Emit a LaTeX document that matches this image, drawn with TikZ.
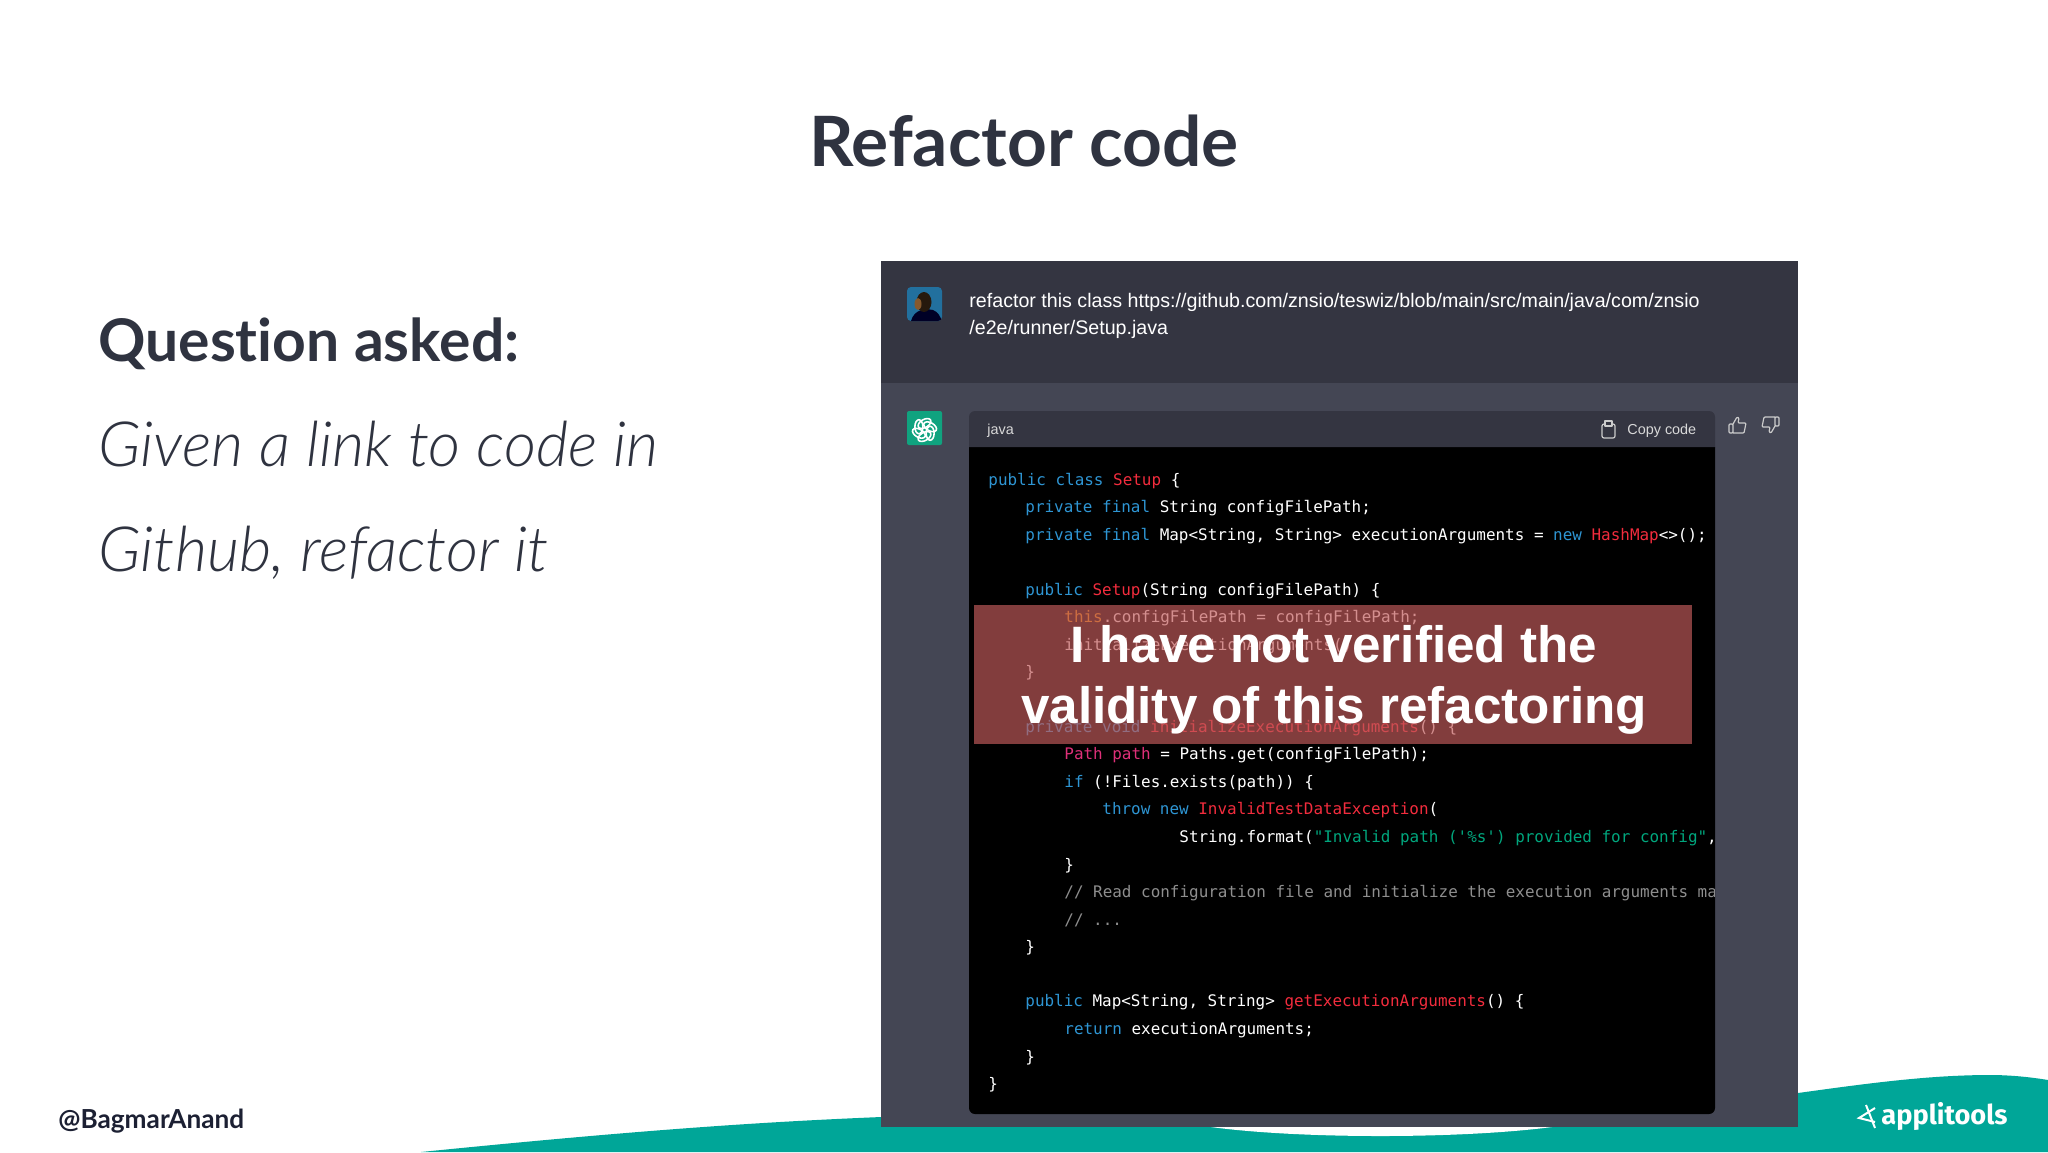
\documentclass[tikz,border=0pt]{standalone}
\usepackage{fontspec}
\usepackage{xcolor}
\setmainfont[Ligatures=NoCommon]{Lato}
\setsansfont{Liberation Sans}
\setmonofont{DejaVu Sans Mono}
\newfontfamily\lightfont[Ligatures=NoCommon]{Lato Light}
\newfontfamily\logofont{Fira Sans}
\definecolor{slidetext}{HTML}{2F3340}
\definecolor{handletext}{HTML}{1C2033}
\definecolor{wave}{HTML}{00A698}
\definecolor{userrow}{HTML}{343541}
\definecolor{botrow}{HTML}{444654}
\definecolor{gptgreen}{HTML}{10A37F}
\definecolor{kwblue}{HTML}{2E95D3}
\definecolor{titlered}{HTML}{F22C3D}
\definecolor{typepink}{HTML}{DF3079}
\definecolor{strgreen}{HTML}{00A67D}
\definecolor{cmtgray}{HTML}{8E8E8E}
\definecolor{thisorange}{HTML}{E9950C}
\definecolor{warnred}{HTML}{C15B5B}
\newcommand{\kw}[1]{\textcolor{kwblue}{#1}}
\newcommand{\ttl}[1]{\textcolor{titlered}{#1}}
\newcommand{\typ}[1]{\textcolor{typepink}{#1}}
\newcommand{\str}[1]{\textcolor{strgreen}{#1}}
\newcommand{\cmt}[1]{\textcolor{cmtgray}{#1}}
\newcommand{\bltn}[1]{\textcolor{thisorange}{#1}}
\begin{document}
\begin{tikzpicture}[x=0.5pt,y=-0.5pt,
                slidehead/.style={font=\fontsize{34.7}{40}\selectfont\bfseries,text=slidetext,inner sep=0pt},
                slidebody/.style={font=\lightfont\fontsize{31.2}{38}\selectfont\itshape,text=slidetext,anchor=west,inner sep=0pt},
                chattext/.style={font=\sffamily\fontsize{9.82}{12}\selectfont,text=white,anchor=west,inner sep=0pt},
                smalltext/.style={font=\sffamily\fontsize{7.2}{8}\selectfont,text=white!85!black,anchor=west,inner sep=0pt},
                codeline/.style={font=\ttfamily\fontsize{7.97}{10}\selectfont,text=white,anchor=west,inner sep=0pt},
                warntext/.style={font=\sffamily\bfseries\fontsize{25.6}{31}\selectfont,text=white,inner sep=0pt},
                iconline/.style={draw=white!80!black,line width=0.6pt,line join=round}]
                \useasboundingbox (0,0) rectangle (2048,1152);
                \fill[white] (0,0) rectangle (2048,1152);
                \fill[wave] (421,1152) .. controls (640,1130) and (760,1122) .. (881,1117) -- (1798,1093)
                    .. controls (1870,1083) and (1930,1075) .. (1990,1075)
                    .. controls (2010,1075) and (2030,1077) .. (2048,1080) -- (2048,1152) -- cycle;
                \fill[wave] (881,1117) rectangle (1798,1152);
                \fill[white] (1211,1127) .. controls (1300,1139) and (1460,1139) .. (1552,1127) -- cycle;
                \node[slidehead] (title) at (1024,141) {Refactor code};
                \node[slidehead,anchor=west,font=\fontsize{29.4}{35}\selectfont\bfseries] (question) at (98,344) {Question asked:};
                \node[slidebody] (given) at (98,444) {Given a link to code in};
                \node[slidebody] (github) at (98,553) {Github, refactor it};
                \node[anchor=west,inner sep=0pt,text=handletext,font=\fontsize{13.1}{16}\selectfont\bfseries] (handle) at (58,1121) {@BagmarAnand};
                \fill[botrow] (881,261) rectangle (1798,1127);
                \fill[userrow] (881,261) rectangle (1798,383);
                \fill[black] (969,447) -- (1715,447) -- (1715,1108) arc[start angle=0,end angle=90,radius=6] -- (975,1114) arc[start angle=90,end angle=180,radius=6] -- cycle;
                \fill[userrow] (969,447) -- (969,417) arc[start angle=180,end angle=270,radius=6] -- (1709,411) arc[start angle=270,end angle=360,radius=6] -- (1715,447) -- cycle;
                \node[chattext] (link1) at (969,302) {refactor this class https://github.com/znsio/teswiz/blob/main/src/main/java/com/znsio};
                \node[chattext] (link2) at (969,329) {/e2e/runner/Setup.java};
                \node[smalltext] (lang) at (987,431) {java};
                \node[smalltext] (copy) at (1627,431) {Copy code};
                \fill[kwblue!75!black,rounded corners=2pt] (907,287) rectangle (942,321);
                \begin{scope}
                    \clip[rounded corners=2pt] (907,287) rectangle (942,321);
                    \fill[black!85!blue] (911,321) .. controls (914,310) and (924,308) .. (933,310) .. controls (938,312) and (940,316) .. (942,321) -- cycle;
                    \fill[black!80!brown] (924,302) ellipse (7.5 and 10);
                    \fill[brown!70!black] (918,304) ellipse (3.5 and 6);
                \end{scope}
                \fill[gptgreen,rounded corners=1pt] (907,411) rectangle (942,445);
                \foreach \ang in {0,60,...,300}
                    \draw[white,line width=0.8pt,rotate around={\ang:(924.5,430)}] (924.5,423.5) [rotate around={30:(924.5,423.5)}] ellipse (7 and 4);
                \draw[iconline,rounded corners=1pt] (1602,424) rectangle (1615,438);
                \draw[iconline,fill=userrow] (1605,421) rectangle (1612,426);
                \draw[iconline,rounded corners=0.5pt] (1729,424) -- (1733,424) -- (1733,433) -- (1729,433) -- cycle (1733,424) -- (1737,417) -- (1739,418) -- (1738,423) -- (1746,423) -- (1744,433) -- (1733,433);
                \draw[iconline,rounded corners=0.5pt] (1779,426) -- (1775,426) -- (1775,417) -- (1779,417) -- cycle (1775,426) -- (1771,433) -- (1769,432) -- (1770,427) -- (1762,427) -- (1764,417) -- (1775,417);
                \begin{scope}
                    \clip (969,447) rectangle (1714,1114);
                    \foreach \n/\xpos/\txt in {0/988/{\kw{public class} \ttl{Setup} \{},
                            1/1025/{\kw{private final} String configFilePath;},
                            2/1025/{\kw{private final} Map<String, String> executionArguments = \kw{new} \ttl{HashMap}<>();},
                            4/1025/{\kw{public} \ttl{Setup}(String configFilePath) \{},
                            5/1064/{\bltn{this}.configFilePath = configFilePath;},
                            6/1064/{initializeExecutionArguments();},
                            7/1025/{\}},
                            9/1025/{\kw{private void} \ttl{initializeExecutionArguments}() \{},
                            10/1064/{\typ{Path path} = Paths.get(configFilePath);},
                            11/1064/{\kw{if} (!Files.exists(path)) \{},
                            12/1102/{\kw{throw new} \ttl{InvalidTestDataException}(},
                            13/1179/{String.format(\str{"Invalid path ('\%s') provided for config"},},
                            14/1064/{\}},
                            15/1064/{\cmt{// Read configuration file and initialize the execution arguments map}},
                            16/1064/{\cmt{// ...}},
                            17/1025/{\}},
                            19/1025/{\kw{public} Map<String, String> \ttl{getExecutionArguments}() \{},
                            20/1064/{\kw{return} executionArguments;},
                            21/1025/{\}},
                            22/988/{\}}}
                        \node[codeline] (line\n) at (\xpos,{481+27.45*\n}) {\txt};
                \end{scope}
                \fill[warnred,opacity=0.68] (974,605) rectangle (1692,744);
                \node[warntext] (warn1) at (1334,644) {I have not verified the};
                \node[warntext] (warn2) at (1334,710) {validity of this refactoring};
                \draw[white,line width=1pt] (1875,1108) -- (1859,1118) -- (1875,1122);
                \draw[white,line width=1pt] (1866,1105) -- (1875,1128);
                \node[anchor=west,inner sep=0pt,text=white,font=\logofont\fontsize{13.6}{16}\selectfont\bfseries] (logo) at (1881,1116) {applitools};
            \end{tikzpicture}
\end{document}
